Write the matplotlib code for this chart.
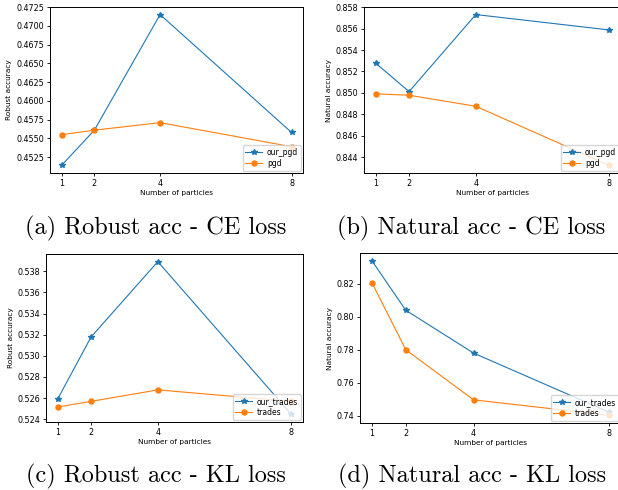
import matplotlib
matplotlib.use("Agg")
import matplotlib.pyplot as plt

# number of particles on the x axis
particles = [1, 2, 4, 8]

# CE loss results
robust_our_pgd = [0.4514, 0.4561, 0.4715, 0.4558]
robust_pgd = [0.4555, 0.4561, 0.4571, 0.4539]
natural_our_pgd = [0.85278, 0.85012, 0.85732, 0.85588]
natural_pgd = [0.84991, 0.84978, 0.84875, 0.84322]

# KL loss results
robust_our_trades = [0.5259, 0.53178, 0.53892, 0.52445]
robust_trades = [0.52515, 0.52568, 0.52677, 0.52568]
natural_our_trades = [0.83377, 0.80385, 0.77797, 0.74223]
natural_trades = [0.8206, 0.7800, 0.74972, 0.7404]

captions = ["(a) Robust acc - CE loss", "(b) Natural acc - CE loss",
            "(c) Robust acc - KL loss", "(d) Natural acc - KL loss"]

W, H = 618, 490
fig = plt.figure(figsize=(W / 100, H / 100), dpi=100)


def px_axes(left, right, top, bottom):
    return fig.add_axes([left / W, 1 - bottom / H, (right - left) / W, (bottom - top) / H])


def draw_panel(ax, ours, base, ours_name, base_name, ylabel):
    ax.plot(particles, ours, color="#1f77b4", marker="*", markersize=3.8, linewidth=0.8, label=ours_name)
    ax.plot(particles, base, color="#ff7f0e", marker="o", markersize=3.6, linewidth=0.8, label=base_name)
    ax.set_xticks(particles)
    ax.set_xlabel("Number of particles", fontsize=5.3, labelpad=2)
    ax.set_ylabel(ylabel, fontsize=5.3, labelpad=3)
    ax.tick_params(labelsize=5.8, length=2.5, width=0.6, pad=1.5)
    for s in ax.spines.values():
        s.set_linewidth(0.7)
    ax.legend(loc="lower right", fontsize=5.5, handlelength=2.2, borderpad=0.35,
              labelspacing=0.3, handletextpad=0.6, borderaxespad=0.3, fancybox=True)


ax_a = px_axes(50, 303, 7, 173)
draw_panel(ax_a, robust_our_pgd, robust_pgd, "our_pgd", "pgd", "Robust accuracy")
ax_a.set_yticks([0.4525 + 0.0025 * i for i in range(9)])

ax_b = px_axes(364, 621, 7, 173)
draw_panel(ax_b, natural_our_pgd, natural_pgd, "our_pgd", "pgd", "Natural accuracy")

ax_c = px_axes(46, 303, 254, 422)
draw_panel(ax_c, robust_our_trades, robust_trades, "our_trades", "trades", "Robust accuracy")

ax_d = px_axes(360, 621, 253, 423)
draw_panel(ax_d, natural_our_trades, natural_trades, "our_trades", "trades", "Natural accuracy")

caption_pos = [(156, 228), (471.5, 228), (156, 476), (472.5, 476)]
for text, (cx, cy) in zip(captions, caption_pos):
    fig.text(cx / W, 1 - cy / H, text, family="cmr10", fontsize=17.5,
             ha="center", va="center")

fig.savefig("out.png", dpi=100)
